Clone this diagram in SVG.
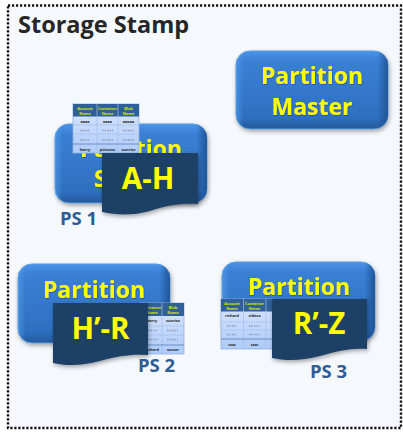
<svg xmlns="http://www.w3.org/2000/svg" width="403" height="448" viewBox="0 0 403 448">
<style>
text{font-family:"Open Sans","Noto Sans","Liberation Sans",sans-serif;font-weight:700}
.bt{fill:#ffff00;font-size:23px;text-anchor:middle;filter:url(#ts)}
.rg{fill:#ffff00;font-size:29.500px;text-anchor:middle}
.ps{fill:#2f5c96;font-size:18.500px}
.hd{fill:#d8e800;font-size:3.800px;text-anchor:middle}
.cd{fill:#222;font-size:3.800px;text-anchor:middle}
.body{fill:url(#bg);stroke:#5c9be0;stroke-width:1;filter:url(#sh)}
.side{fill:url(#sd)}
.doc{fill:#1f3f66;filter:url(#sh)}
.th{fill:#2f6098}
.tb{fill:url(#rw);stroke:#93b0e0;stroke-width:.8}
.ln{stroke:#a4bfe8;stroke-width:.7;fill:none}
.lk{stroke:#5a7fb5;stroke-width:.8;fill:none}
.gd{stroke:#8f9db8;stroke-width:1.400;stroke-dasharray:1.500 1;fill:none}
</style>
<defs>
<linearGradient id="bg" x1="0" y1="0" x2="0" y2="1"><stop offset="0" stop-color="#4a94e8"/><stop offset=".12" stop-color="#3a80d6"/><stop offset=".85" stop-color="#2e70c0"/><stop offset="1" stop-color="#26599c"/></linearGradient>
<linearGradient id="sd" x1="0" y1="0" x2="1" y2="0"><stop offset="0" stop-color="#5aa8f0" stop-opacity=".5"/><stop offset=".05" stop-color="#5aa8f0" stop-opacity="0"/><stop offset=".93" stop-color="#1d4f8e" stop-opacity="0"/><stop offset="1" stop-color="#1d4f8e" stop-opacity=".85"/></linearGradient>
<linearGradient id="rw" x1="0" y1="0" x2="0" y2="1"><stop offset="0" stop-color="#dbe7fd"/><stop offset="1" stop-color="#aecbfa"/></linearGradient>
<filter id="sh" x="-10%" y="-10%" width="125%" height="130%"><feDropShadow dx="1" dy="2" stdDeviation="2" flood-color="#000" flood-opacity=".35"/></filter>
<filter id="ts" x="-5%" y="-10%" width="110%" height="125%"><feDropShadow dx=".5" dy=".7" stdDeviation=".4" flood-color="#143a70" flood-opacity=".7"/></filter>
</defs>
<rect width="403" height="448" fill="#ffffff"/>
<rect id="stamp" x="8" y="5.500" width="393" height="422.500" fill="#f5f8fc" stroke="#111" stroke-width="2.400" stroke-dasharray="2.200 1.800"/>
<text x="18" y="33" font-size="23.500" fill="#262626">Storage Stamp</text>
<g id="connectors"/>
<g id="partition-master">
<rect class="body" x="236" y="51" width="152" height="78" rx="14"/>
<rect class="side" x="236" y="51" width="152" height="78" rx="14"/>
<text class="bt" x="312" y="84">Partition</text>
<text class="bt" x="312" y="114.500">Master</text>
</g>
<g id="ps1">
<rect class="body" x="55" y="124" width="152" height="79" rx="14"/>
<rect class="side" x="55" y="124" width="152" height="79" rx="14"/>
<text class="bt" x="131" y="157">Partition</text>
<text class="bt" x="131" y="187">Server</text>
<rect class="tb" x="73" y="104" width="66" height="49"/>
<rect class="th" x="73" y="104" width="66" height="12.500"/>
<path class="ln" d="M97 104V153M118 104V153M73 125H139M73 134H139"/>
<path class="lk" d="M73 144H139"/>
<text class="hd"><tspan x="85" y="109.500">Account</tspan><tspan x="85" y="114.500">Name</tspan></text>
<text class="hd"><tspan x="107.500" y="109.500">Container</tspan><tspan x="107.500" y="114.500">Name</tspan></text>
<text class="hd"><tspan x="128.500" y="109.500">Blob</tspan><tspan x="128.500" y="114.500">Name</tspan></text>
<text class="cd" x="85" y="123">aaaa</text><text class="cd" x="107.500" y="123">aaaa</text><text class="cd" x="128.500" y="123">aaaaa</text>
<path class="gd" d="M80 130.500H90M102 130.500H113M123 130.500H134M80 140H90M102 140H113M123 140H134"/>
<text class="cd" x="85" y="150.500">harry</text><text class="cd" x="107.500" y="150.500">pictures</text><text class="cd" x="128.500" y="150.500">sunrise</text>
<path class="doc" d="M102 153H198V204C180 203 168 205 150 211C132 216 116 215 102 212Z"/>
<text class="rg" x="148" y="189">A-H</text>
<text class="ps" x="60" y="225">PS 1</text>
</g>
<g id="ps2">
<rect class="body" x="18" y="264" width="152" height="79" rx="14"/>
<rect class="side" x="18" y="264" width="152" height="79" rx="14"/>
<text class="bt" x="94" y="298">Partition</text>
<rect class="tb" x="140" y="303" width="44" height="51"/>
<rect class="th" x="140" y="303" width="44" height="13"/>
<path class="ln" d="M162 303V354M140 326H184M140 335H184"/>
<path class="lk" d="M140 345H184"/>
<text class="hd"><tspan x="152" y="308.500">Container</tspan><tspan x="152" y="314">Name</tspan></text>
<text class="hd"><tspan x="173" y="308.500">Blob</tspan><tspan x="173" y="314">Name</tspan></text>
<text class="cd" x="152" y="322">harry</text><text class="cd" x="173" y="322">sunrise</text>
<path class="gd" d="M148 330.500H158M167 330.500H178M148 339.500H158M167 339.500H178"/>
<text class="cd" x="152" y="351">richard</text><text class="cd" x="173" y="351">soccer</text>
<path class="doc" d="M53 303H148V355C130 354 118 356 100 361C82 366 66 366 53 363Z"/>
<text class="rg" x="100.500" y="339">H’-R</text>
<text class="ps" x="138" y="372">PS 2</text>
</g>
<g id="ps3">
<rect class="body" x="222" y="262" width="153" height="79" rx="14"/>
<rect class="side" x="222" y="262" width="153" height="79" rx="14"/>
<text class="bt" x="299" y="295">Partition</text>
<rect class="tb" x="221" y="299" width="52" height="50"/>
<rect class="th" x="221" y="299" width="52" height="12.500"/>
<path class="ln" d="M243.500 299V349M266 299V349M221 322H273M221 330H273"/>
<path class="lk" d="M221 339H273"/>
<text class="hd"><tspan x="232" y="304.500">Account</tspan><tspan x="232" y="310">Name</tspan></text>
<text class="hd"><tspan x="254.500" y="304.500">Container</tspan><tspan x="254.500" y="310">Name</tspan></text>
<text class="cd" x="232" y="317">richard</text><text class="cd" x="254.500" y="317">videos</text>
<path class="gd" d="M227 326H237M249 326H260M227 334.500H237M249 334.500H260"/>
<text class="cd" x="232" y="345.500">zzzz</text><text class="cd" x="254.500" y="345.500">zzzz</text>
<path class="doc" d="M272 299H367V349C350 348 338 351 320 356C302 361 285 361 272 358Z"/>
<text class="rg" x="319" y="334">R’-Z</text>
<text class="ps" x="310" y="378">PS 3</text>
</g>
</svg>
